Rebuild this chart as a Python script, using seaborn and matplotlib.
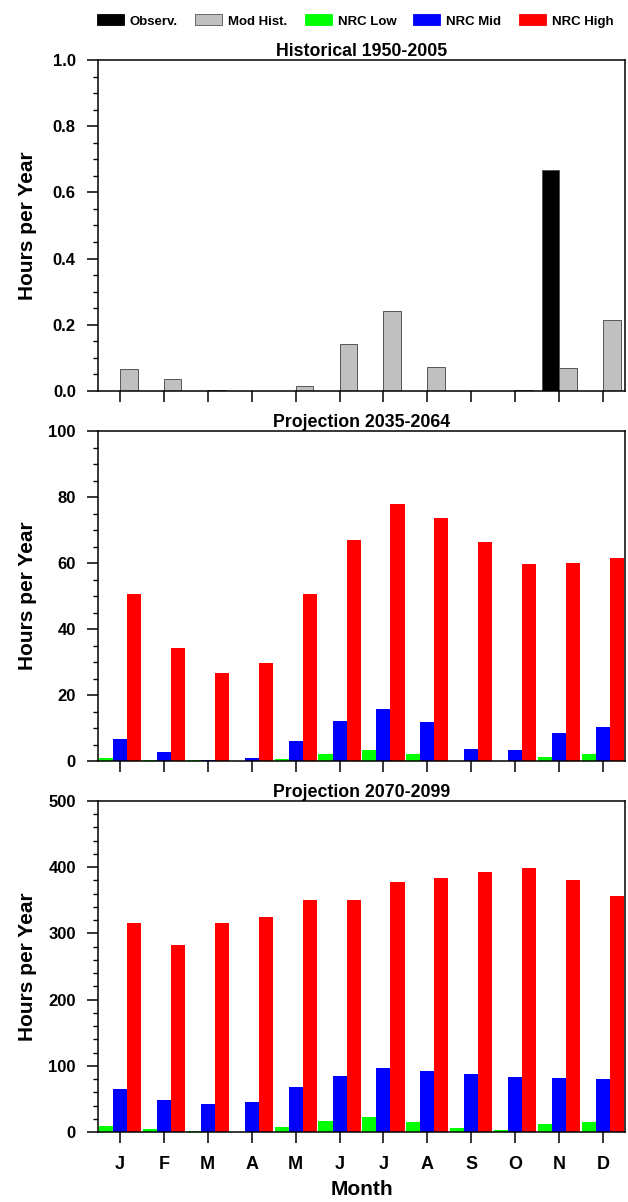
import numpy as np
import pandas as pd
import matplotlib
matplotlib.use("Agg")
import matplotlib.pyplot as plt
from matplotlib.patches import Patch
from matplotlib.ticker import MultipleLocator
import seaborn as sns

# ---- data -------------------------------------------------------------
month_names = ["Jan", "Feb", "Mar", "Apr", "May", "Jun",
               "Jul", "Aug", "Sep", "Oct", "Nov", "Dec"]
month_letters = ["J", "F", "M", "A", "M", "J", "J", "A", "S", "O", "N", "D"]

# Historical 1950-2005
observed = [0, 0, 0, 0, 0, 0, 0, 0, 0, 0, 0.667, 0]
mod_hist = [0.066, 0.035, 0.003, 0.0, 0.015, 0.143, 0.242, 0.071, 0.0, 0.003, 0.069, 0.216]

# Projection 2035-2064
mid_low = [1.0, 0.2, 0.3, 0.1, 0.5, 2.2, 3.4, 2.0, 0.0, 0.0, 1.2, 2.2]
mid_mid = [6.8, 2.7, 0.3, 0.9, 6.0, 12.2, 15.8, 11.7, 3.7, 3.3, 8.5, 10.3]
mid_high = [50.7, 34.2, 26.7, 29.8, 50.7, 66.9, 77.8, 73.7, 66.4, 59.6, 60.0, 61.6]

# Projection 2070-2099
late_low = [9.0, 5.0, 1.0, 0.5, 8.0, 17.0, 22.0, 15.0, 6.5, 3.5, 12.5, 15.0]
late_mid = [64.5, 48.0, 43.0, 45.0, 67.5, 84.0, 97.0, 92.0, 88.0, 83.0, 82.0, 80.0]
late_high = [315, 282, 315, 325, 350, 351, 378, 384, 392, 399, 381, 356]

hist_series = ["Observ.", "Mod Hist."]
nrc_series = ["NRC Low", "NRC Mid", "NRC High"]
series_colors = {"Observ.": "#000000", "Mod Hist.": "#c0c0c0",
                 "NRC Low": "#00ff00", "NRC Mid": "#0000ff", "NRC High": "#ff0000"}

panel_titles = ["Historical 1950-2005", "Projection 2035-2064", "Projection 2070-2099"]


def long_frame(series_names, series_values):
    rows = []
    for name, vals in zip(series_names, series_values):
        for m, v in zip(month_names, vals):
            rows.append({"month": m, "series": name, "hours": v})
    return pd.DataFrame(rows)


frames = [
    long_frame(hist_series, [observed, mod_hist]),
    long_frame(nrc_series, [mid_low, mid_mid, mid_high]),
    long_frame(nrc_series, [late_low, late_mid, late_high]),
]

# ---- style ------------------------------------------------------------
sns.set_style("ticks")
plt.rcParams["font.family"] = ["Liberation Sans", "DejaVu Sans"]
plt.rcParams["font.weight"] = "bold"
plt.rcParams["axes.labelweight"] = "bold"
plt.rcParams["axes.titleweight"] = "bold"
plt.rcParams["axes.edgecolor"] = "#000000"
plt.rcParams["axes.linewidth"] = 1.1
for key in ["text.color", "axes.labelcolor", "xtick.color", "ytick.color"]:
    plt.rcParams[key] = "#000000"

W, H = 628, 1202
fig = plt.figure(figsize=(W / 100, H / 100), dpi=100)

# axes boxes in pixels: (left, top, right, bottom)
boxes = [(98, 60, 625, 391), (98, 431, 625, 761), (98, 801, 625, 1132)]
ylims = [1.0, 100, 500]
majors = [0.2, 20, 100]
minors = [0.05, 5, 20]
ytick_fmt = ["{:.1f}", "{:.0f}", "{:.0f}"]

for i, (frame, box) in enumerate(zip(frames, boxes)):
    l, t, r, b = box
    ax = fig.add_axes([l / W, 1 - b / H, (r - l) / W, (b - t) / H])
    hue_order = hist_series if i == 0 else nrc_series
    sns.barplot(
        data=frame, x="month", y="hours", hue="series",
        order=month_names, hue_order=hue_order,
        palette=series_colors, width=0.8 if i == 0 else 0.96, gap=0,
        edgecolor="#555555" if i == 0 else "none",
        linewidth=0.7 if i == 0 else 0,
        errorbar=None, legend=False, saturation=1, ax=ax,
    )
    ax.set_xlim(-0.5, 11.5)
    ax.set_ylim(0, ylims[i])
    yt = np.arange(0, ylims[i] + majors[i] / 2, majors[i])
    ax.set_yticks(yt)
    ax.set_yticklabels([ytick_fmt[i].format(v) for v in yt])
    ax.yaxis.set_minor_locator(MultipleLocator(minors[i]))
    ax.tick_params(axis="y", which="major", direction="out", length=8,
                   width=1.1, labelsize=12, pad=8)
    ax.tick_params(axis="y", which="minor", direction="out", length=3.5,
                   width=1.0)
    ax.tick_params(axis="x", which="major", direction="out", length=8,
                   width=1.1, labelsize=13, pad=9)
    for s in ["top", "right", "left", "bottom"]:
        ax.spines[s].set_visible(True)
        ax.spines[s].set_color("#000000")
    ax.set_title(panel_titles[i], fontsize=12.8, fontweight="bold", pad=3)
    ax.set_ylabel("Hours per Year", fontsize=15, fontweight="bold")
    ax.yaxis.set_label_coords(-0.116, 0.5)
    ax.set_xticks(range(12))
    if i == 2:
        ax.set_xticklabels(month_letters)
        ax.set_xlabel("Month", fontsize=15, fontweight="bold", labelpad=5)
    else:
        ax.set_xticklabels([])
        ax.set_xlabel("")

handles = [Patch(facecolor=series_colors[n],
                 edgecolor="#555555" if n == "Mod Hist." else series_colors[n],
                 linewidth=0.6, label=n)
           for n in hist_series + nrc_series]
fig.legend(handles=handles, loc="center left", ncol=5, frameon=False,
           bbox_to_anchor=(97 / W, 1 - 21 / H), fontsize=9.5,
           handlelength=2.05, handleheight=0.9, handletextpad=0.45,
           columnspacing=1.3, borderpad=0, borderaxespad=0)

fig.savefig("out.png", dpi=100)
